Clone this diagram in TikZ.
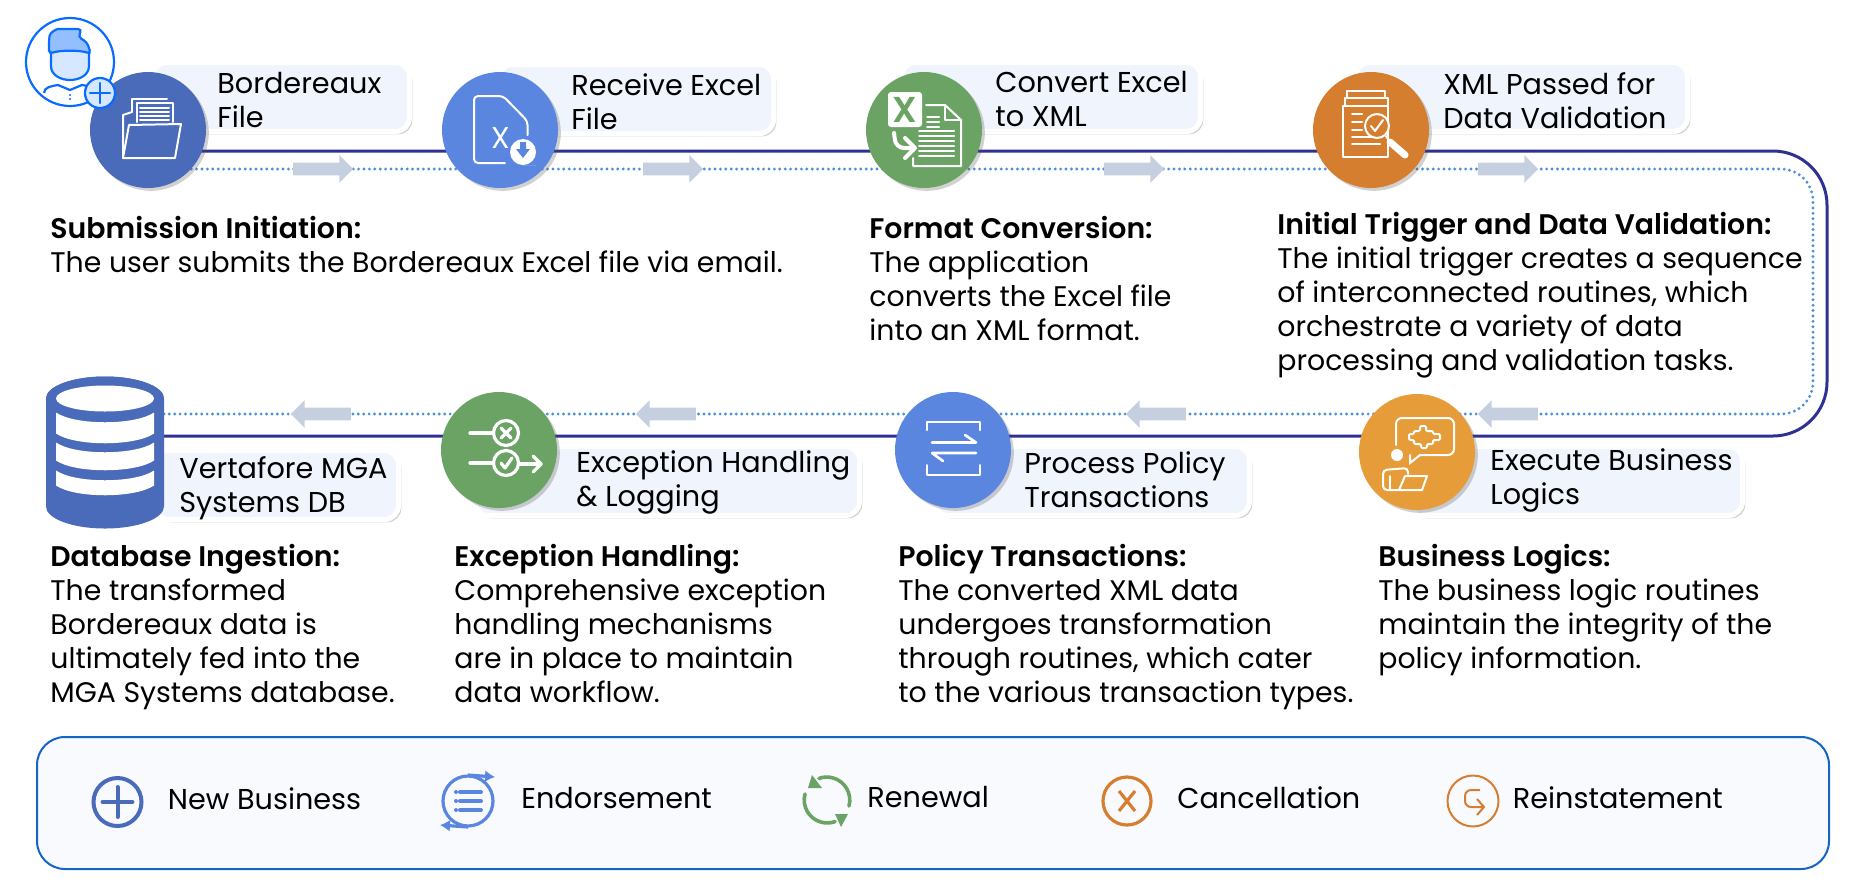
\documentclass[tikz,border=0pt]{standalone}
\usepackage{fontspec}
\usepackage{xcolor}
\usepackage{tikz}
\usetikzlibrary{arrows.meta,positioning,calc,backgrounds,shadows,shapes.arrows}
\setmainfont[BoldFont={Poppins SemiBold}]{Poppins}
\definecolor{deepnavy}{HTML}{2E3192}
\definecolor{dotblue}{HTML}{4A90D9}
\definecolor{arrowgray}{HTML}{C5CFE0}
\definecolor{cardblue}{HTML}{F0F4FC}
\definecolor{panelblue}{HTML}{F8FAFE}
\definecolor{panelline}{HTML}{1565C8}
\definecolor{stepblue}{HTML}{4A6ABA}
\definecolor{skyblue}{HTML}{5B86E0}
\definecolor{stepgreen}{HTML}{6BA364}
\definecolor{steporange}{HTML}{D67E2F}
\definecolor{stepyellow}{HTML}{E69C38}
\definecolor{userblue}{HTML}{0A6CFF}
\definecolor{userlight}{HTML}{D6E8FF}
\definecolor{userhair}{HTML}{93BFFF}

\begin{document}
\begin{tikzpicture}[
    x=0.5pt, y=-0.5pt, >=Latex,
    softshadow/.style={drop shadow={shadow xshift=1.4pt,shadow yshift=-1.4pt,opacity=.26,fill=black!70}},
    stepcirc/.style={circle,minimum size=58pt,inner sep=0pt,outer sep=0pt,softshadow},
    card/.style={draw=white,line width=2.5pt,fill=cardblue,rounded corners=7pt,
                 minimum height=34.5pt,inner sep=0pt,softshadow},
    cardtext/.style={align=left,anchor=north west,inner sep=0pt,
                     font=\fontsize{14.35}{17}\selectfont,execute at begin node=\strut},
    desc/.style={align=left,anchor=north west,inner sep=0pt,
                 font=\fontsize{14.17}{17}\selectfont,execute at begin node=\strut},
    flowarrow/.style={single arrow,fill=arrowgray,minimum height=30pt,minimum width=13.5pt,
                      inner sep=3pt,single arrow head extend=3.75pt,outer sep=0pt},
    legendcirc/.style={circle,draw,inner sep=0pt,outer sep=0pt,minimum size=24pt},
    legendtext/.style={inner sep=0pt,text height=10pt,text depth=3pt,
                       font=\fontsize{14.35}{17}\selectfont},
    icon/.style={draw=white,line width=1pt,line join=round,line cap=round}
  ]
    \useasboundingbox (0,0) rectangle (1853,890);

    \node[stepcirc,fill=stepblue] (bordcirc) at (148,130) {};
    \node[stepcirc,fill=skyblue,right=118pt of bordcirc] (recvcirc) {};
    \node[stepcirc,fill=stepgreen,right=154pt of recvcirc] (convcirc) {};
    \node[stepcirc,fill=steporange,right=165.5pt of convcirc] (xmlcirc) {};
    \node[stepcirc,fill=stepyellow] (execcirc) at (1417,452) {};
    \node[stepcirc,fill=skyblue] (proccirc) at (953,450) {};
    \node[stepcirc,fill=stepgreen,left=169pt of proccirc] (exccirc) {};
    \node[inner sep=0pt,outer sep=0pt,minimum width=59pt,minimum height=76.5pt] (dbnode) at (105,452.5) {};

    \coordinate (looptop) at ($(bordcirc)+(0,21)$);
    \coordinate (loopbot) at ($(dbnode)+(0,-16.5)$);
    \coordinate (dottop) at ($(bordcirc)+(0,39)$);
    \coordinate (dotbot) at ($(dbnode)+(0,-38.5)$);

    \begin{scope}[on background layer]
        \draw[deepnavy,line width=1.5pt,rounded corners=27pt] (looptop) -- (1827,151) -- (1827,436) -- (loopbot);
        \draw[dotblue,line width=1.6pt,line cap=round,dash pattern=on 0pt off 2.7pt,rounded corners=16pt]
            (dottop) -- (1813,169) -- (1813,414) -- (dotbot);
        \node[card,minimum width=128.5pt] (bordcard) at ($(bordcirc)+(133,-33)$) {};
        \node[card,minimum width=137.5pt] (recvcard) at ($(recvcirc)+(136,-31)$) {};
        \node[card,minimum width=149.5pt] (convcard) at ($(convcirc)+(127,-33)$) {};
        \node[card,minimum width=166pt] (xmlcard) at ($(xmlcirc)+(150.5,-33)$) {};
        \node[card,minimum width=167pt] (execcard) at ($(execcirc)+(158.5,29)$) {};
        \node[card,minimum width=157.5pt] (proccard) at ($(proccirc)+(139,31)$) {};
        \node[card,minimum width=192.5pt] (exccard) at ($(exccirc)+(168,31)$) {};
        \node[card,minimum width=122pt] (dbcard) at ($(dbnode)+(171.5,32.5)$) {};
    \end{scope}

    \node[flowarrow] (flowa) at (320,169) {};
    \node[flowarrow] (flowb) at (670,169) {};
    \node[flowarrow] (flowc) at (1131,169) {};
    \node[flowarrow] (flowd) at (1505,169) {};
    \node[flowarrow,shape border rotate=180] (flowe) at (1511,414) {};
    \node[flowarrow,shape border rotate=180] (flowf) at (1159,414) {};
    \node[flowarrow,shape border rotate=180] (flowg) at (669,414) {};
    \node[flowarrow,shape border rotate=180] (flowh) at (324,414) {};

    \node[cardtext] (bordlabel) at ($(bordcirc)+(69,-58)$) {Bordereaux\\File};
    \node[cardtext] (recvlabel) at ($(recvcirc)+(71,-57)$) {Receive Excel\\File};
    \node[cardtext] (convlabel) at ($(convcirc)+(71,-59)$) {Convert Excel\\to XML};
    \node[cardtext] (xmllabel) at ($(xmlcirc)+(72,-58)$) {XML Passed for\\Data Validation};
    \node[cardtext] (execlabel) at ($(execcirc)+(73,-4)$) {Execute Business\\Logics};
    \node[cardtext] (proclabel) at ($(proccirc)+(71,1)$) {Process Policy\\Transactions};
    \node[cardtext] (exclabel) at ($(exccirc)+(77,0)$) {Exception Handling\\\& Logging};
    \node[cardtext] (dblabel) at ($(dbnode)+(74,3.5)$) {Vertafore MGA\\Systems DB};

    \node[desc] (subdesc) at ($(bordcirc)+(-98,85.5)$) {\textbf{Submission Initiation:}\\The user submits the Bordereaux Excel file via email.};
    \node[desc] (fmtdesc) at ($(convcirc)+(-55,85.5)$) {\textbf{Format Conversion:}\\The application\\converts the Excel file\\into an XML format.};
    \node[desc] (trigdesc) at ($(xmlcirc)+(-94,81.5)$) {\textbf{Initial Trigger and Data Validation:}\\The initial trigger creates a sequence\\of interconnected routines, which\\orchestrate a variety of data\\processing and validation tasks.};
    \node[desc] (logicdesc) at ($(execcirc)+(-39,91.5)$) {\textbf{Business Logics:}\\The business logic routines\\maintain the integrity of the\\policy information.};
    \node[desc] (poldesc) at ($(proccirc)+(-55,93.5)$) {\textbf{Policy Transactions:}\\The converted XML data\\undergoes transformation\\through routines, which cater\\to the various transaction types.};
    \node[desc] (excdesc) at ($(exccirc)+(-45,93.5)$) {\textbf{Exception Handling:}\\Comprehensive exception\\handling mechanisms\\are in place to maintain\\data workflow.};
    \node[desc] (dbdesc) at ($(dbnode)+(-55,91)$) {\textbf{Database Ingestion:}\\The transformed\\Bordereaux data is\\ultimately fed into the\\MGA Systems database.};

    \begin{scope}[shift={(dbnode)}]
        \fill[stepblue] (-59,-54) arc[start angle=180,end angle=360,x radius=59,y radius=22]
            -- (59,54) arc[start angle=0,end angle=180,x radius=59,y radius=22] -- cycle;
        \fill[stepblue] (0,-54) ellipse[x radius=59,y radius=22];
        \fill[white] (0,-54) ellipse[x radius=49,y radius=13];
        \fill[white] (-49,-40) .. controls (-30,-27) and (30,-27) .. (49,-40) -- (49,-19) .. controls (30,-6) and (-30,-6) .. (-49,-19) -- cycle;
        \fill[white] (-49,-10) .. controls (-30,3) and (30,3) .. (49,-10) -- (49,8) .. controls (30,21) and (-30,21) .. (-49,8) -- cycle;
        \fill[white] (-49,18) .. controls (-30,31) and (30,31) .. (49,18) -- (49,33) .. controls (30,46) and (-30,46) .. (-49,33) -- cycle;
    \end{scope}

    \begin{scope}[shift={(bordcirc)},icon]
        \draw (-25,28) -- (-25,-15) -- (-16,-18);
        \draw (-16,-18) -- (-16,-31) -- (19,-31);
        \draw (-11,-8) -- (-11,-27) -- (25,-27) -- (25,-8);
        \draw (-8,-22) -- (21,-22) (-8,-18) -- (21,-18) (-8,-14) -- (21,-14) (-8,-10) -- (21,-10);
        \draw[fill=stepblue] (-25,28) -- (-19,-5) -- (33,-6) -- (27,28) -- cycle;
    \end{scope}

    \begin{scope}[shift={(recvcirc)},icon]
        \draw[rounded corners=2pt] (5,33) -- (-26,33) -- (-26,-34) -- (3,-34) -- (27.5,-9) -- (27.5,5);
        \node[white,font=\fontsize{15}{15}\selectfont,inner sep=0pt] (xglyph) at (1,8) {X};
        \fill[white] (23,9) arc[start angle=-90,end angle=90,radius=13] -- (36,35) -- (23,35) arc[start angle=90,end angle=270,radius=13] -- cycle;
        \fill[skyblue] (20,12) -- (26,12) -- (26,19) -- (30,19) -- (23,28) -- (16,19) -- (20,19) -- cycle;
    \end{scope}

    \begin{scope}[shift={(convcirc)},icon]
        \fill[white,rounded corners=1.5pt] (-36,-38) rectangle (-2,-3);
        \node[stepgreen,font=\bfseries\fontsize{18}{18}\selectfont,inner sep=0pt] (xlglyph) at (-19,-20.5) {X};
        \draw (2,-25) -- (21,-25) -- (37,-10) -- (37,36) -- (-11,36) -- (-11,28);
        \draw (21,-25) -- (21,-10) -- (37,-10);
        \draw (3,-13) -- (15,-13) (3,-8) -- (15,-8) (3,-3) -- (15,-3);
        \draw (-5,1) -- (30,1) (-5,6) -- (30,6) (-5,11) -- (30,11) (-5,16) -- (30,16) (-5,21) -- (30,21) (-5,26) -- (30,26);
        \draw[line width=2pt,rounded corners=4pt] (-30,3) -- (-28,18) -- (-12,18);
        \draw[line width=2pt] (-19,8) -- (-9,18) -- (-19,28);
    \end{scope}

    \begin{scope}[shift={(xmlcirc)},icon]
        \draw (-24,-33) -- (-24,-39) -- (14,-39) -- (14,-33);
        \draw (-26,-25) -- (-26,-32) -- (17,-32) -- (17,-25);
        \draw (-28,-24) rectangle (17,27);
        \draw (-19,-16) -- (-9,-16) (-19,-8) -- (-9,-8) (-19,0) -- (-9,0) (-19,7) -- (9,7) (-19,14) -- (9,14);
        \draw[fill=steporange] (6,-4) circle[radius=12];
        \draw (0,-4) -- (4,1) -- (12,-10);
        \draw[line width=3.5pt] (19,12) -- (34,25);
        \draw (15,6) -- (19,12);
    \end{scope}

    \begin{scope}[shift={(execcirc)},icon]
        \draw[rounded corners=3pt] (-21,-7) -- (-21,-34) -- (37,-34) -- (37,3) -- (3,3);
        \draw[line join=miter] (3,3) -- (-7,11) -- (-7,3);
        \draw[rounded corners=.6pt] (-3,-21) -- (3,-21) -- (3,-26) -- (9,-26) -- (9,-21) -- (16,-21) -- (16,-18) -- (23,-18) -- (23,-12) -- (16,-12) -- (16,-8) -- (10,-8) -- (10,-4) -- (4,-4) -- (4,-8) -- (-3,-8) -- (-3,-12) -- (-8,-12) -- (-8,-18) -- (-3,-18) -- cycle;
        \fill[white] (-20,3) circle[radius=6];
        \draw[rounded corners=2pt] (5,38) -- (-34,38) -- (-34,18) -- (-9,16) -- (-9,22);
        \draw (-27,24) -- (-27,38);
        \draw (-18,38) -- (-12,24) -- (10,24) -- (5,38);
    \end{scope}

    \begin{scope}[shift={(proccirc)},icon]
        \draw (-26,-20) -- (-26,-28) -- (27,-28) -- (27,-20);
        \draw (-26,15) -- (-26,25) -- (27,25) -- (27,15);
        \draw[line width=1.3pt] (-21,-7.5) -- (23,-7.5) -- (12,-15);
        \draw[line width=1.3pt] (23,3) -- (-21,3) -- (-10,11);
    \end{scope}

    \begin{scope}[shift={(exccirc)},icon,line width=1.6pt]
        \draw (-29,-17) -- (-6,-17);
        \draw (7,-17) circle[radius=12.5];
        \draw (2,-22) -- (12,-12) (12,-22) -- (2,-12);
        \draw (-29,13) -- (-6,13);
        \draw (7,13) circle[radius=12.5];
        \draw (2,13) -- (6,18) -- (13,8);
        \draw (20,14) -- (42,14);
        \draw (34,6) -- (42,14) -- (34,22);
    \end{scope}

    \begin{scope}[shift={(70,62)}]
        \draw[userblue,line width=1.1pt,fill=white] (0,0) circle[radius=44];
        \draw[userblue,line width=1.1pt,fill=white] (-26,31) .. controls (-26,25) and (-18,24) .. (-12,23) -- (0,28) -- (12,23) .. controls (18,24) and (26,25) .. (26,31);
        \fill[userblue] (0,33) circle[radius=1.2] (0,37) circle[radius=1.2];
        \draw[userblue,line width=1.1pt,fill=userlight] (-19,-12) -- (-19,4) .. controls (-19,14) and (-8,18) .. (0,18) .. controls (8,18) and (19,14) .. (19,4) -- (19,-12) -- cycle;
        \draw[userblue,line width=1.1pt,fill=userhair,rounded corners=2pt] (-21,-8) -- (-21,-22) .. controls (-20,-30) and (-13,-33) .. (-8,-33) -- (12,-33) -- (8,-25) -- (17,-20) -- (21,-8) .. controls (10,-12) and (-10,-12) .. (-21,-8) -- cycle;
    \end{scope}
    \node[circle,draw=userblue,line width=1.1pt,fill=userlight,minimum size=15pt,inner sep=0pt] (plusbadge) at (100,93) {};
    \draw[userblue,line width=1.2pt,line cap=round] ($(plusbadge)+(-10,0)$) -- ($(plusbadge)+(10,0)$) ($(plusbadge)+(0,-10)$) -- ($(plusbadge)+(0,10)$);

    \node[rectangle,draw=panelline,line width=1pt,fill=panelblue,rounded corners=14pt,minimum width=896pt,minimum height=66pt,inner sep=0pt] (legendbox) at (933,803) {};

    \node[legendcirc,draw=stepblue,line width=2pt] (newicon) at (117.5,802) {};
    \draw[stepblue,line width=2pt,line cap=round] ($(newicon)+(-15,0)$) -- ($(newicon)+(15,0)$) ($(newicon)+(0,-15)$) -- ($(newicon)+(0,15)$);
    \node[legendtext,right=13pt of newicon] (newtext) {New Business};

    \node[legendcirc,draw=skyblue,line width=1.6pt,minimum size=25pt] (endoicon) at (468,801) {};
    \draw[skyblue,line width=1.6pt,-{Latex[length=5pt,width=6pt]}] ($(endoicon)+(0,-26)$) -- ($(endoicon)+(27,-24)$);
    \draw[skyblue,line width=1.6pt,-{Latex[length=5pt,width=6pt]}] ($(endoicon)+(0,26)$) -- ($(endoicon)+(-28,24)$);
    \draw[skyblue,line width=2pt,line cap=round] ($(endoicon)+(-8,-9)$) -- ($(endoicon)+(13,-9)$) ($(endoicon)+(-8,0)$) -- ($(endoicon)+(13,0)$) ($(endoicon)+(-8,9)$) -- ($(endoicon)+(13,9)$);
    \fill[skyblue] ($(endoicon)+(-12,-9)$) circle[radius=2] ($(endoicon)+(-12,0)$) circle[radius=2] ($(endoicon)+(-12,9)$) circle[radius=2];
    \node[legendtext,right=14pt of endoicon] (endotext) {Endorsement};

    \coordinate (renewicon) at (827,800);
    \draw[stepgreen,line width=1.8pt,line cap=round] ($(renewicon)+(22,6)$) arc[start angle=15,end angle=-110,radius=23];
    \draw[stepgreen,line width=1.8pt,line cap=round] ($(renewicon)+(-22,-6)$) arc[start angle=195,end angle=70,radius=23];
    \fill[stepgreen,line join=round] ($(renewicon)+(-15,-25)$) -- ($(renewicon)+(-19,-12)$) -- ($(renewicon)+(-5,-12)$) -- cycle;
    \fill[stepgreen,line join=round] ($(renewicon)+(8,14)$) -- ($(renewicon)+(21,14)$) -- ($(renewicon)+(14,27)$) -- cycle;
    \node[legendtext,anchor=west] (renewtext) at ($(renewicon)+(40,0)$) {Renewal};

    \node[legendcirc,draw=steporange,line width=1.6pt] (cancicon) at (1127,801) {};
    \draw[steporange,line width=1.6pt] ($(cancicon)+(-8,-10)$) -- ($(cancicon)+(8,10)$) ($(cancicon)+(8,-10)$) -- ($(cancicon)+(-8,10)$);
    \node[legendtext,right=13pt of cancicon] (canctext) {Cancellation};

    \node[legendcirc,draw=steporange,line width=1pt,minimum size=25.5pt] (reinicon) at (1473,801) {};
    \draw[steporange,line width=1pt,rounded corners=3pt] ($(reinicon)+(7,-11)$) -- ($(reinicon)+(-8,-11)$) -- ($(reinicon)+(-8,6)$) -- ($(reinicon)+(10,6)$);
    \draw[steporange,line width=1pt] ($(reinicon)+(4,-2)$) -- ($(reinicon)+(11,6)$) -- ($(reinicon)+(4,14)$);
    \node[legendtext,right=7pt of reinicon] (reintext) {Reinstatement};
  \end{tikzpicture}
\end{document}
